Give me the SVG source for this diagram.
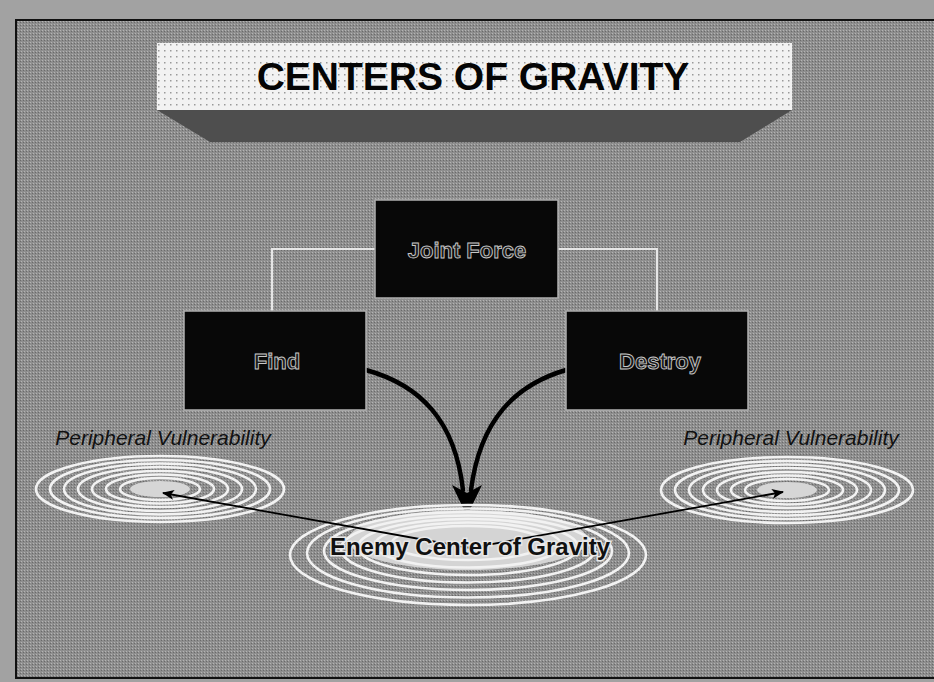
<svg xmlns="http://www.w3.org/2000/svg" width="934" height="682" viewBox="0 0 934 682">
<style>
.box{fill:#080808;stroke:#b0b0b0;stroke-width:1.5}
.boxtxt{font-family:"Liberation Sans",Arial,sans-serif;font-weight:bold;font-size:22px;fill:#1a1a1a;stroke:#c8c8c8;stroke-width:0.9;text-anchor:middle}
.pv{font-family:"Liberation Sans",Arial,sans-serif;font-style:italic;font-size:21px;fill:#111;text-anchor:middle}
.ring{fill:none;stroke:#f2f2f2;stroke-width:2.6}
.tree{fill:none;stroke:#e6e6e6;stroke-width:2}
.curve{fill:none;stroke:#000;stroke-width:4.5;stroke-linecap:round}
.thin{fill:none;stroke:#000;stroke-width:1.8}
</style>
<defs>
<pattern id="ht" width="3" height="3" patternUnits="userSpaceOnUse">
<rect width="3" height="3" fill="#8e8e8e"/>
<rect width="1" height="1" fill="#b4b4b4"/>
<rect x="2" y="1" width="1" height="1" fill="#6a6a6a"/>
</pattern>
<pattern id="dots" width="6" height="6" patternUnits="userSpaceOnUse">
<rect width="6" height="6" fill="#f2f2f2"/>
<rect x="2" y="2" width="1.5" height="1.5" fill="#9a9a9a"/>
</pattern>
<marker id="ah" markerWidth="12" markerHeight="10" refX="11" refY="5" orient="auto" markerUnits="userSpaceOnUse">
<path d="M0,0 L12,5 L0,10 L3,5 Z" fill="#000"/>
</marker>
</defs>

<g id="background">
<rect width="934" height="682" fill="#a2a2a2"/>
<rect x="16" y="20" width="930" height="658" fill="url(#ht)" stroke="#111" stroke-width="2"/>
</g>

<g id="title">
<polygon points="157,110 792,110 740,142 210,142" fill="#4e4e4e"/>
<rect x="157" y="43" width="635" height="67" fill="url(#dots)"/>
<text x="473" y="90" font-family="'Liberation Sans',Arial,sans-serif" font-weight="bold" font-size="39" fill="#050505" text-anchor="middle">CENTERS OF GRAVITY</text>
</g>

<g id="connectors">
<polyline class="tree" points="375,249 272,249 272,311"/>
<polyline class="tree" points="558,249 657,249 657,311"/>
<path class="curve" d="M366,370 C420,385 455,420 463,490"/>
<path class="curve" d="M566,370 C515,385 480,420 471,490"/>
<path d="M467,516 L452,485 L467,493 L482,485 Z" fill="#000"/>
</g>

<g id="joint-force">
<rect class="box" x="375" y="200" width="183" height="98"/>
<text class="boxtxt" x="467" y="258">Joint Force</text>
</g>

<g id="find">
<rect class="box" x="184" y="311" width="182" height="99"/>
<text class="boxtxt" x="277" y="369">Find</text>
</g>

<g id="destroy">
<rect class="box" x="566" y="311" width="182" height="99"/>
<text class="boxtxt" x="660" y="369">Destroy</text>
</g>

<g id="left-vulnerability">
<text class="pv" x="163" y="445">Peripheral Vulnerability</text>
<ellipse cx="160" cy="489" rx="30" ry="8" fill="#d6d6d6"/>
<ellipse class="ring" cx="160" cy="489" rx="124" ry="33"/>
<ellipse class="ring" cx="160" cy="489" rx="110" ry="29"/>
<ellipse class="ring" cx="160" cy="489" rx="96" ry="25.5"/>
<ellipse class="ring" cx="160" cy="489" rx="82" ry="22"/>
<ellipse class="ring" cx="160" cy="489" rx="68" ry="18"/>
<ellipse class="ring" cx="160" cy="489" rx="54" ry="14.5"/>
<ellipse class="ring" cx="160" cy="489" rx="40" ry="11"/>
</g>

<g id="right-vulnerability">
<text class="pv" x="791" y="445">Peripheral Vulnerability</text>
<ellipse cx="787" cy="490" rx="30" ry="8" fill="#d6d6d6"/>
<ellipse class="ring" cx="787" cy="490" rx="126" ry="33"/>
<ellipse class="ring" cx="787" cy="490" rx="112" ry="29"/>
<ellipse class="ring" cx="787" cy="490" rx="98" ry="25.5"/>
<ellipse class="ring" cx="787" cy="490" rx="84" ry="22"/>
<ellipse class="ring" cx="787" cy="490" rx="70" ry="18"/>
<ellipse class="ring" cx="787" cy="490" rx="56" ry="14.5"/>
<ellipse class="ring" cx="787" cy="490" rx="42" ry="11"/>
</g>

<g id="enemy-center">
<ellipse cx="468" cy="540" rx="120" ry="30" fill="#d4d4d4"/>
<ellipse class="ring" cx="468" cy="555" rx="178" ry="50"/>
<ellipse class="ring" cx="468" cy="553" rx="161" ry="44.5"/>
<ellipse class="ring" cx="468" cy="551" rx="144" ry="39"/>
<ellipse class="ring" cx="468" cy="549" rx="127" ry="33.5"/>
<ellipse class="ring" cx="468" cy="547" rx="110" ry="28"/>
<ellipse class="ring" cx="468" cy="545" rx="93" ry="22.5"/>
<ellipse class="ring" cx="468" cy="543" rx="76" ry="17"/>
</g>

<g id="links">
<line class="thin" x1="470" y1="548" x2="163" y2="493" marker-end="url(#ah)"/>
<line class="thin" x1="470" y1="548" x2="783" y2="492" marker-end="url(#ah)"/>
</g>

<text x="470" y="555" font-family="'Liberation Sans',Arial,sans-serif" font-weight="bold" font-size="24" fill="#111" stroke="#e8e8e8" stroke-width="3" paint-order="stroke" text-anchor="middle">Enemy Center of Gravity</text>
</svg>
